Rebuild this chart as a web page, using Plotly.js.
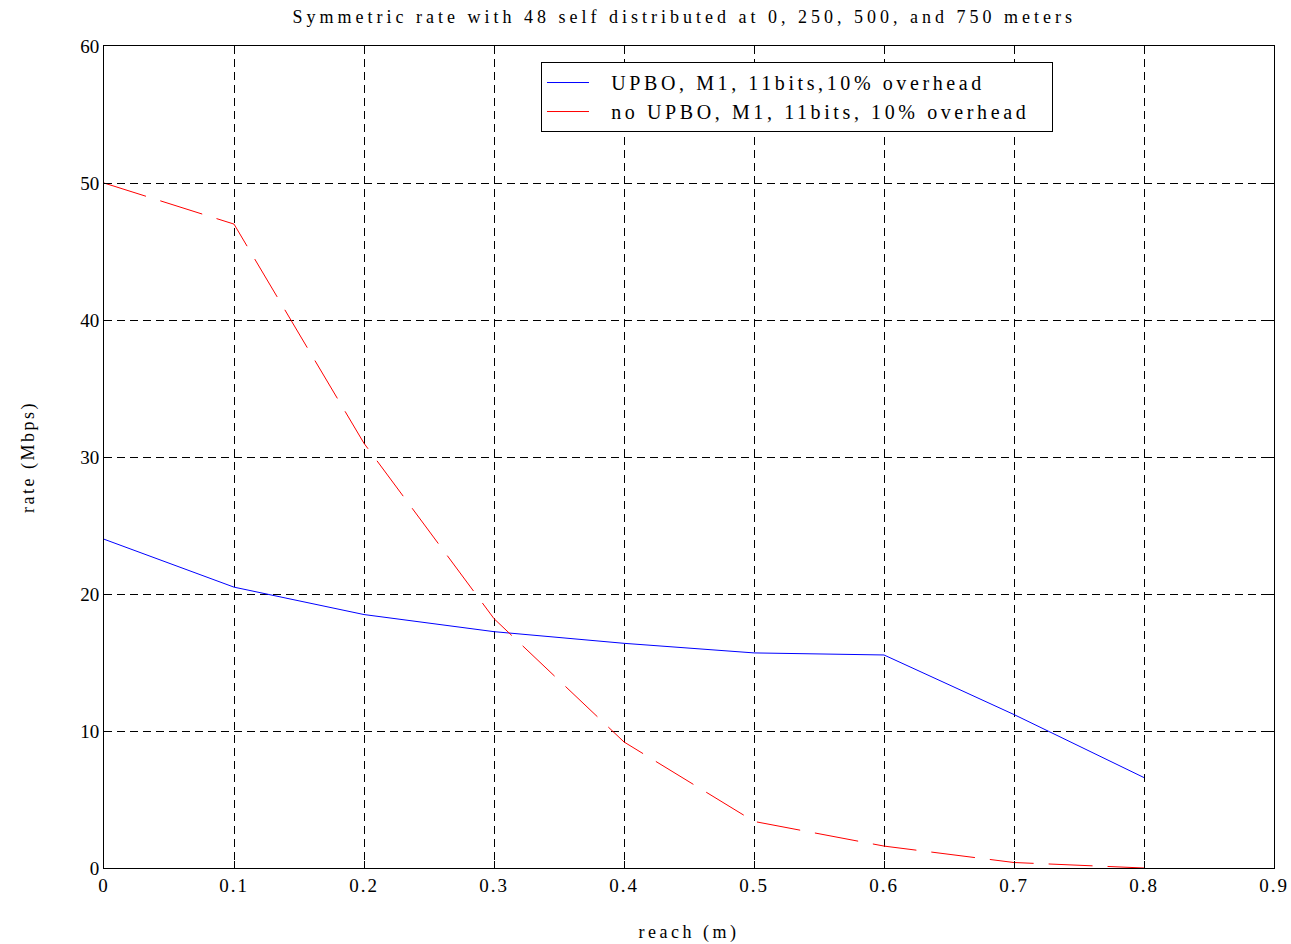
<!DOCTYPE html>
<html>
<head>
<meta charset="utf-8">
<script src="https://cdn.plot.ly/plotly-3.0.1.min.js"></script>
<style>
body{margin:0;background:#fff;}
.gtitle{letter-spacing:4px;}
.legendtext{letter-spacing:3.6px;}
.xtick text{letter-spacing:2px;}
.g-xtitle text{letter-spacing:3.5px;}
.g-ytitle text{letter-spacing:2.5px;}
</style>
</head>
<body>
<div id="chart" style="width:1291px;height:944px;"></div>
<script>
const reach = [0, 0.1, 0.2, 0.3, 0.4, 0.5, 0.6, 0.7, 0.8];
const upboRate = [24.0, 20.5, 18.5, 17.25, 16.4, 15.7, 15.55, 11.2, 6.6];
const noUpboRate = [50.0, 47.0, 31.0, 18.2, 9.2, 3.4, 1.6, 0.4, 0.0];
const seriesNames = ["UPBO, M1, 11bits,10% overhead", "no UPBO, M1, 11bits, 10% overhead"];
const xTicks = [0, 0.1, 0.2, 0.3, 0.4, 0.5, 0.6, 0.7, 0.8, 0.9];
const xTickLabels = ["0", "0.1", "0.2", "0.3", "0.4", "0.5", "0.6", "0.7", "0.8", "0.9"];
const yTicks = [0, 10, 20, 30, 40, 50, 60];

const font = "Liberation Serif, Times New Roman, serif";
const pad = "\u00a0\u00a0";

const traces = [
  {x: reach, y: upboRate, name: pad + seriesNames[0], type: "scatter", mode: "lines",
   line: {color: "#0000ff", width: 1}},
  {x: reach, y: noUpboRate, name: pad + seriesNames[1] + pad, type: "scatter", mode: "lines",
   line: {color: "#ff0000", width: 1, dash: "44px,15px"}}
];

const axisCommon = {
  showline: true, linecolor: "#000", linewidth: 1, mirror: "ticks",
  ticks: "inside", ticklen: 7, tickcolor: "#000",
  showgrid: true, gridcolor: "#000", gridwidth: 1, griddash: "8px,5px",
  zeroline: false, tickfont: {family: font, size: 19, color: "#000"}
};

const layout = {
  width: 1291, height: 944,
  margin: {l: 104, r: 17, t: 46, b: 76},
  paper_bgcolor: "#fff", plot_bgcolor: "#fff",
  title: {text: "Symmetric rate with 48 self distributed at 0, 250, 500, and 750 meters",
          font: {family: font, size: 18, color: "#000"}, x: 0.53, xanchor: "center", y: 0.982, yanchor: "middle"},
  xaxis: Object.assign({}, axisCommon, {
    range: [0, 0.9], tickvals: xTicks, ticktext: xTickLabels,
    title: {text: "reach (m)", font: {family: font, size: 18, color: "#000"}, standoff: 30}
  }),
  yaxis: Object.assign({}, axisCommon, {
    range: [0, 60], tickvals: yTicks,
    title: {text: "rate (Mbps)", font: {family: font, size: 18, color: "#000"}, standoff: 40}
  }),
  showlegend: true,
  legend: {x: 0.3735, y: 0.9805, xanchor: "left", yanchor: "top",
           bgcolor: "#fff", bordercolor: "#000", borderwidth: 1, itemwidth: 42,
           font: {family: font, size: 20, color: "#000"}, tracegroupgap: 0}
};

Plotly.newPlot("chart", traces, layout, {displayModeBar: false, staticPlot: true});
</script>
</body>
</html>
